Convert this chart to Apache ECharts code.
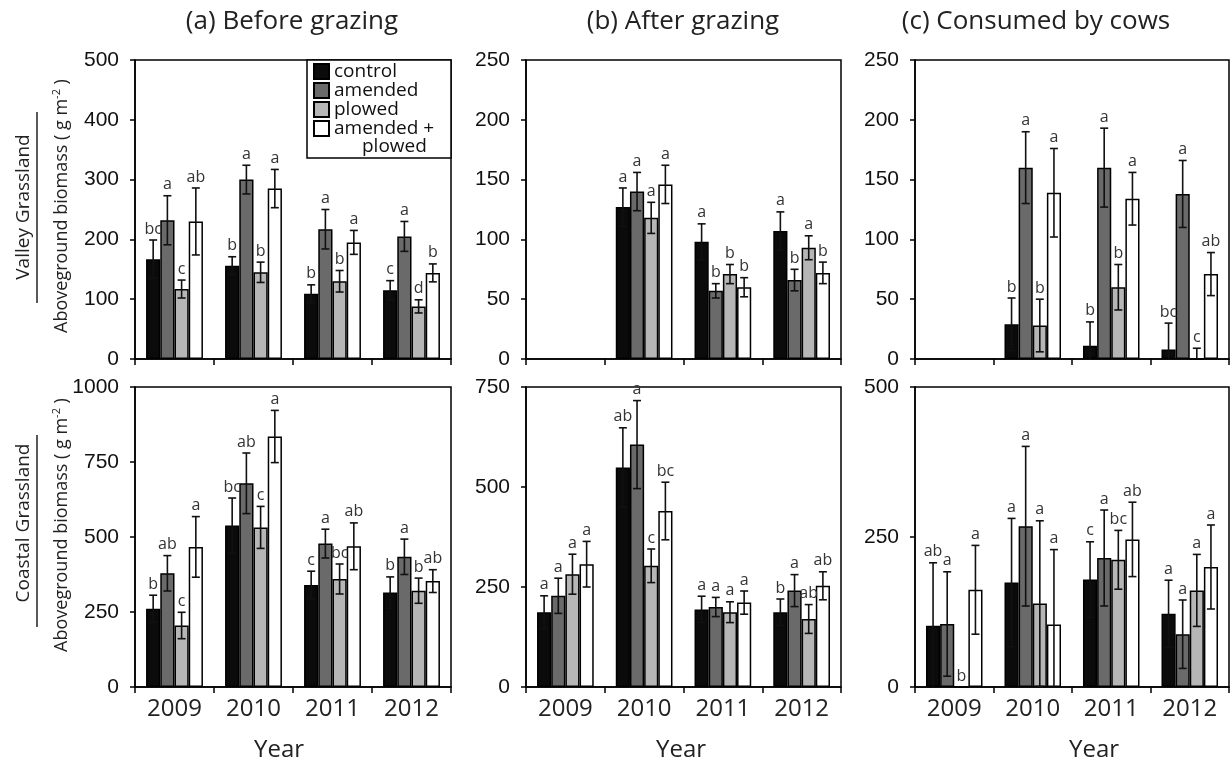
<!DOCTYPE html>
<html><head><meta charset="utf-8">
<script src="https://cdn.jsdelivr.net/npm/echarts@6/dist/echarts.min.js"></script>
<style>html,body{margin:0;padding:0;background:#fff}#c{width:1231px;height:766px}</style>
</head><body><div id="c"></div>
<script>
// ---------- DATA ----------
const years = ['2009', '2010', '2011', '2012'];
const treatments = ['control', 'amended', 'plowed', 'amended + plowed'];
const yMax = [500, 250, 250, 1000, 750, 500];
const yInterval = [100, 50, 50, 250, 250, 250];
const panelTitles = ['(a) Before grazing', '(b) After grazing', '(c) Consumed by cows'];
const rowNames = ['Valley Grassland', 'Coastal Grassland'];

// rows = treatments (control, amended, plowed, amended + plowed), columns = years
const valleyBeforeMean = [[167, 156, 109, 115], [232, 300, 217, 205], [117, 145, 130, 88], [230, 285, 195, 144]];
const valleyBeforeErr = [[32, 15, 15, 16], [41, 24, 33, 25], [15, 17, 18, 11], [56, 32, 20, 15]];
const valleyBeforeLetters = [['bc', 'b', 'b', 'c'], ['a', 'a', 'a', 'a'], ['c', 'b', 'b', 'd'], ['ab', 'a', 'a', 'b']];

const valleyAfterMean = [[null, 127, 98, 107], [null, 140, 57, 66], [null, 118, 71, 93], [null, 146, 60, 72]];
const valleyAfterErr = [[null, 16, 15, 16], [null, 16, 6, 9], [null, 13, 8, 10], [null, 16, 8, 9]];
const valleyAfterLetters = [['', 'a', 'a', 'a'], ['', 'a', 'b', 'b'], ['', 'a', 'b', 'a'], ['', 'a', 'b', 'b']];

const valleyConsumedMean = [[null, 29, 11, 8], [null, 160, 160, 138], [null, 28, 60, 0], [null, 139, 134, 71]];
const valleyConsumedErr = [[null, 22, 20, 22], [null, 30, 33, 28], [null, 22, 19, 9], [null, 37, 22, 18]];
const valleyConsumedLetters = [['', 'b', 'b', 'bc'], ['', 'a', 'a', 'a'], ['', 'b', 'b', 'c'], ['', 'a', 'a', 'ab']];

const coastalBeforeMean = [[261, 538, 340, 315], [379, 679, 478, 434], [205, 532, 360, 321], [467, 835, 469, 353]];
const coastalBeforeErr = [[45, 92, 46, 52], [59, 101, 48, 59], [44, 70, 50, 42], [101, 87, 78, 38]];
const coastalBeforeLetters = [['b', 'bc', 'c', 'b'], ['ab', 'ab', 'a', 'a'], ['c', 'c', 'bc', 'b'], ['a', 'a', 'ab', 'ab']];

const coastalAfterMean = [[187, 549, 194, 187], [228, 606, 200, 241], [282, 303, 187, 170], [307, 440, 211, 253]];
const coastalAfterErr = [[41, 99, 33, 33], [44, 110, 24, 40], [50, 42, 26, 36], [57, 72, 29, 35]];
const coastalAfterLetters = [['a', 'ab', 'a', 'b'], ['a', 'a', 'a', 'a'], ['a', 'c', 'a', 'ab'], ['a', 'bc', 'a', 'ab']];

const coastalConsumedMean = [[102, 174, 179, 122], [105, 268, 215, 88], [0, 139, 212, 161], [162, 104, 246, 200]];
const coastalConsumedErr = [[105, 107, 63, 56], [87, 133, 80, 57], [0, 138, 49, 60], [74, 125, 62, 70]];
const coastalConsumedLetters = [['ab', 'a', 'c', 'a'], ['a', 'a', 'a', 'a'], ['b', 'a', 'bc', 'a'], ['a', 'a', 'ab', 'a']];

// ---------- STYLE / LAYOUT ----------
const panelMeans = [valleyBeforeMean, valleyAfterMean, valleyConsumedMean, coastalBeforeMean, coastalAfterMean, coastalConsumedMean];
const panelErrs = [valleyBeforeErr, valleyAfterErr, valleyConsumedErr, coastalBeforeErr, coastalAfterErr, coastalConsumedErr];
const panelLetters = [valleyBeforeLetters, valleyAfterLetters, valleyConsumedLetters, coastalBeforeLetters, coastalAfterLetters, coastalConsumedLetters];
const barColors = ['#0b0b0b', '#6a6a6a', '#b6b6b6', '#ffffff'];
const cols = [{ left: 135, width: 316 }, { left: 526, width: 315 }, { left: 915, width: 314 }];
const rows = [{ top: 60, height: 299 }, { top: 387, height: 300 }];
const GAP = 0.28;
const FONT = 'Open Sans';

const grids = [], xAxes = [], yAxes = [], series = [];
for (let p = 0; p < 6; p++) {
  const r = Math.floor(p / 3), c = p % 3;
  grids.push({ left: cols[c].left, width: cols[c].width, top: rows[r].top, height: rows[r].height,
    show: true, borderColor: '#000', borderWidth: 1.5, backgroundColor: 'transparent' });
  xAxes.push({ type: 'category', data: years, gridIndex: p,
    axisLine: { lineStyle: { color: '#000', width: 1.5 } },
    axisTick: { show: true, length: 6, lineStyle: { color: '#000', width: 1.5 } },
    axisLabel: { show: r === 1, fontSize: 24, fontFamily: FONT, color: '#222', margin: 10 },
    splitLine: { show: false } });
  yAxes.push({ type: 'value', gridIndex: p, min: 0, max: yMax[p], interval: yInterval[p],
    axisLine: { show: true, lineStyle: { color: '#000', width: 1.5 } },
    axisTick: { show: true, length: 5, lineStyle: { color: '#000', width: 1.5 } },
    axisLabel: { fontSize: 21, fontFamily: 'Liberation Sans', color: '#111', margin: 16, formatter: v => String(v) },
    splitLine: { show: false } });
  treatments.forEach((t, i) => {
    series.push({ type: 'bar', name: t, xAxisIndex: p, yAxisIndex: p,
      data: panelMeans[p][i], barGap: '0%', barCategoryGap: (GAP * 100) + '%',
      itemStyle: { color: barColors[i], borderColor: '#000', borderWidth: 1.5 },
      emphasis: { disabled: true }, animation: false });
  });
  const data = [], letters = [];
  for (let i = 0; i < 4; i++) {
    for (let k = 0; k < years.length; k++) {
      const m = panelMeans[p][i][k];
      if (m === null) continue;
      data.push([k, i, m, panelErrs[p][i][k]]);
      letters.push(panelLetters[p][i][k]);
    }
  }
  series.push({ type: 'custom', xAxisIndex: p, yAxisIndex: p, data: data, encode: { x: 0, y: 2 },
    silent: true, animation: false, z: 5,
    renderItem: (params, api) => {
      const k = api.value(0), i = api.value(1), m = api.value(2), e = api.value(3);
      const band = api.size([1, 0])[0];
      const bw = band * (1 - GAP) / 4;
      const cx = api.coord([k, 0])[0] + (i - 1.5) * bw;
      const yt = api.coord([k, m + e])[1];
      const yb = api.coord([k, Math.max(0, m - e)])[1];
      const ls = { stroke: '#111', lineWidth: 1.6 };
      const ch = [];
      if (e > 0) {
        ch.push({ type: 'line', shape: { x1: cx, y1: yt, x2: cx, y2: yb }, style: ls });
        ch.push({ type: 'line', shape: { x1: cx - 4, y1: yt, x2: cx + 4, y2: yt }, style: ls });
        if (m - e > 0) ch.push({ type: 'line', shape: { x1: cx - 4, y1: yb, x2: cx + 4, y2: yb }, style: ls });
      }
      ch.push({ type: 'text', style: { text: letters[params.dataIndex], x: cx, y: yt - 3,
        align: 'center', verticalAlign: 'bottom', fontSize: 16, fontFamily: FONT, fill: '#333' } });
      return { type: 'group', children: ch };
    } });
}

const graphic = [];
// panel titles
const titleX = [292, 683, 1036];
panelTitles.forEach((t, c) => graphic.push({ type: 'text', x: titleX[c], y: 22,
  style: { text: t, align: 'center', verticalAlign: 'middle', fontSize: 26, fontFamily: FONT, fill: '#222' } }));
// x axis names
const yearX = [279, 681, 1094];
yearX.forEach(x => graphic.push({ type: 'text', x: x, y: 750,
  style: { text: 'Year', align: 'center', verticalAlign: 'middle', fontSize: 24, fontFamily: FONT, fill: '#222' } }));
// row labels
const rowLabelY = [207, 523], rowLineY = [[112, 303], [435, 627]], bioY = [206, 525];
rowNames.forEach((nm, r) => {
  graphic.push({ type: 'text', x: 24, y: rowLabelY[r], rotation: Math.PI / 2,
    style: { text: nm, align: 'center', verticalAlign: 'middle', fontSize: 19, fontFamily: FONT, fill: '#222' } });
  graphic.push({ type: 'line', shape: { x1: 37, y1: rowLineY[r][0], x2: 37, y2: rowLineY[r][1] },
    style: { stroke: '#222', lineWidth: 1.5 } });
  graphic.push({ type: 'text', x: 62, y: bioY[r], rotation: Math.PI / 2,
    style: { text: '{n|Aboveground biomass ( g m}{s|-2}{n| )}', align: 'center', verticalAlign: 'middle',
      rich: { n: { fontSize: 18, fontFamily: FONT, fill: '#222', lineHeight: 22 },
              s: { fontSize: 11, fontFamily: FONT, fill: '#222', verticalAlign: 'top', lineHeight: 22 } } } });
});
// legend box and continuation line
graphic.push({ type: 'rect', shape: { x: 307, y: 60, width: 144, height: 98 }, z: 0,
  style: { fill: '#fff', stroke: '#000', lineWidth: 1.5 } });
graphic.push({ type: 'text', x: 362, y: 147, z: 10,
  style: { text: 'plowed', align: 'left', verticalAlign: 'middle', fontSize: 19, fontFamily: FONT, fill: '#111' } });

const chart = echarts.init(document.getElementById('c'));
chart.setOption({
  backgroundColor: '#fff',
  animation: false,
  grid: grids, xAxis: xAxes, yAxis: yAxes, series: series,
  legend: { data: treatments, left: 313, top: 62, orient: 'vertical', padding: 0, itemGap: 0,
    itemWidth: 15, itemHeight: 15, icon: 'rect', selectedMode: false, z: 10,
    formatter: n => n === 'amended + plowed' ? 'amended +' : n,
    textStyle: { fontSize: 19, fontFamily: FONT, color: '#111', lineHeight: 19 } },
  graphic: graphic
});
</script></body></html>
